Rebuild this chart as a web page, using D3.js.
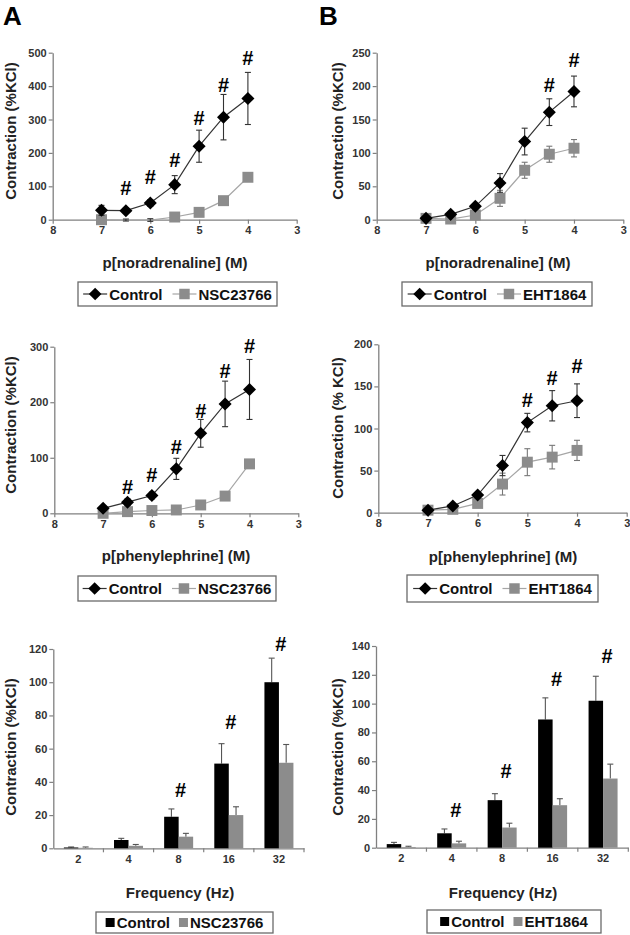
<!DOCTYPE html>
<html><head><meta charset="utf-8">
<script src="https://cdn.jsdelivr.net/npm/d3@7"></script>
<style>
body{margin:0;background:#fff;}
svg{display:block;font-family:"Liberation Sans",Arial,sans-serif;}
</style></head>
<body><svg id="c" width="630" height="935"></svg>
<script>
// ---------- DATA ----------
const doseX = [7, 6.5, 6, 5.5, 5, 4.5, 4];
const doseTicks = [8, 7, 6, 5, 4, 3];
const freqCats = ["2", "4", "8", "16", "32"];

// A, noradrenaline
const noraCtrlA = [28, 27, 50, 105, 220, 307, 363];
const noraCtrlAErr = [15, 8, 10, 27, 48, 68, 78];
const noraNSC = [0, -1, -1, 8, 22, 57, 127];
const noraNSCErr = [1, 3, 4, 1, 2, 2, 3];
const noraNSCMarker = [1, 0, 0, 1, 1, 1, 1];
const noraSigA = [null, 95, 129, 178, 304, 403, 483];
// B, noradrenaline
const noraCtrlB = [2, 8, 20, 55, 117, 161, 192];
const noraCtrlBErr = [1, 3, 4, 14, 20, 20, 23];
const noraEHT = [2, 1, 7, 32, 74, 98, 107];
const noraEHTErr = [1, 1, 3, 12, 12, 12, 13];
const noraSigB = [null, null, null, null, null, 202, 239];
// A, phenylephrine
const pheCtrlA = [9, 20, 32, 80, 144, 197, 223];
const pheCtrlAErr = [5, 6, 6, 19, 25, 41, 54];
const pheNSC = [0, 3, 5, 6, 15, 31, 89];
const pheNSCErr = [1, 1, 1, 1, 2, 2, 3];
const pheSigA = [null, 48, 69, 120, 185, 257, 302];
// B, phenylephrine
const pheCtrlB = [3, 8, 21, 56, 107, 127, 133];
const pheCtrlBErr = [1, 2, 3, 12, 11, 18, 20];
const pheEHT = [3, 4, 11, 34, 60, 66, 74];
const pheEHTErr = [1, 1, 3, 13, 16, 14, 12];
const pheSigB = [null, null, null, null, 134, 160, 174];
// A, frequency
const freqCtrlA = [0.5, 5, 19, 51, 100];
const freqCtrlAErr = [0.3, 1, 4.7, 12, 14.5];
const freqNSC = [0.3, 1.5, 7, 20, 51.5];
const freqNSCErr = [0.5, 0.8, 2, 5, 11];
const freqSigA = [null, null, 35, 76, 123];
// B, frequency
const freqCtrlB = [2.5, 10, 33, 89, 102];
const freqCtrlBErr = [1.2, 3, 4.5, 15, 17];
const freqEHT = [0.5, 3, 14, 29.5, 48];
const freqEHTErr = [0.5, 1.5, 3, 4.5, 10];
const freqSigB = [null, 26, 53, 117, 133];

// ---------- STYLE ----------
const FONT = '"Liberation Sans",Arial,sans-serif';
const AXIS = "#808080";
const TXT = "#333";
const CTRL = "#000";
const CTRL_LINE = "#333";
const DRUG = "#8c8c8c";
const DRUG_LINE = "#a6a6a6";

const svg = d3.select("#c");

function styleAxis(a){
  a.select(".domain").attr("stroke", AXIS).attr("stroke-width", 1.3);
  a.selectAll(".tick line").attr("stroke", AXIS).attr("stroke-width", 1.2);
  a.selectAll(".tick text").attr("fill", TXT).style("font-size", "11px").style("font-weight", "bold").style("font-family", FONT);
}

function yTitle(g, x, y, label){
  g.append("text").attr("transform", `translate(${x},${y}) rotate(-90)`)
    .attr("text-anchor", "middle").attr("dominant-baseline", "central")
    .style("font-size", "15px").style("font-weight", "bold").attr("fill", "#222").text(label);
}
function xTitle(g, x, y, label){
  g.append("text").attr("x", x).attr("y", y).attr("text-anchor", "middle")
    .style("font-size", "15px").style("font-weight", "bold").attr("fill", "#222").text(label);
}

function legendLine(g, box, items){
  const lg = g.append("g");
  lg.append("rect").attr("x", box.x).attr("y", box.y).attr("width", box.w).attr("height", box.h)
    .attr("fill", "#fff").attr("stroke", "#6a6a6a").attr("stroke-width", 1.3);
  const inner = lg.append("g");
  let cx = 0;
  const cy = box.y + box.h / 2;
  items.forEach((it, i) => {
    if (i > 0) cx += 10;
    inner.append("line").attr("x1", cx).attr("x2", cx + 24).attr("y1", cy).attr("y2", cy)
      .attr("stroke", it.line).attr("stroke-width", 1.2);
    inner.append("path").attr("d", d3.symbol(d3.symbolSquare, it.size)())
      .attr("transform", `translate(${cx + 12},${cy}) rotate(${it.rot})`).attr("fill", it.color);
    cx += 26;
    const t = inner.append("text").attr("x", cx).attr("y", cy).attr("dominant-baseline", "central")
      .style("font-size", "15px").style("font-weight", "bold").attr("fill", "#111").text(it.label);
    cx += t.node().getComputedTextLength();
  });
  inner.attr("transform", `translate(${box.x + (box.w - cx) / 2},0)`);
}
function legendBar(g, box, items){
  const lg = g.append("g");
  lg.append("rect").attr("x", box.x).attr("y", box.y).attr("width", box.w).attr("height", box.h)
    .attr("fill", "#fff").attr("stroke", "#6a6a6a").attr("stroke-width", 1.3);
  const inner = lg.append("g");
  let cx = 0;
  const cy = box.y + box.h / 2;
  items.forEach((it, i) => {
    if (i > 0) cx += 9;
    inner.append("rect").attr("x", cx).attr("y", cy - 4.5).attr("width", 9).attr("height", 9).attr("fill", it.color);
    cx += 11;
    const t = inner.append("text").attr("x", cx).attr("y", cy).attr("dominant-baseline", "central")
      .style("font-size", "15px").style("font-weight", "bold").attr("fill", "#111").text(it.label);
    cx += t.node().getComputedTextLength();
  });
  inner.attr("transform", `translate(${box.x + (box.w - cx) / 2},0)`);
}

function sig(g, x, y, sigVals, xs){
  sigVals.forEach((v, i) => {
    if (v == null) return;
    g.append("text").attr("x", xs(i)).attr("y", y(v)).attr("text-anchor", "middle")
      .attr("dominant-baseline", "central").style("font-size", "20px").style("font-weight", "bold")
      .attr("fill", "#000").text("#");
  });
}

function linePanel(cfg){
  const g = svg.append("g");
  const x = d3.scaleLinear().domain([8, 3]).range([cfg.x0, cfg.x1]);
  const y = d3.scaleLinear().domain([0, cfg.yMax]).range([cfg.yBot, cfg.yTop]);
  const ya = g.append("g").attr("transform", `translate(${cfg.x0},0)`)
    .call(d3.axisLeft(y).tickValues(d3.range(0, cfg.yMax + 1, cfg.yStep)).tickSize(4).tickSizeOuter(0).tickPadding(2));
  styleAxis(ya);
  const xa = g.append("g").attr("transform", `translate(0,${cfg.yBot})`)
    .call(d3.axisBottom(x).tickValues(doseTicks).tickFormat(d3.format("d")).tickSize(4).tickSizeOuter(0).tickPadding(3));
  styleAxis(xa);

  const lineGen = d3.line().x((d, i) => x(doseX[i])).y(d => y(d));
  [cfg.drug, cfg.ctrl].forEach(s => {
    g.append("path").datum(s.vals).attr("d", lineGen).attr("fill", "none")
      .attr("stroke", s.line).attr("stroke-width", 1.2);
    s.vals.forEach((v, i) => {
      const e = s.err[i];
      const xx = x(doseX[i]);
      g.append("line").attr("x1", xx).attr("x2", xx).attr("y1", y(v - e)).attr("y2", y(v + e))
        .attr("stroke", s.errColor).attr("stroke-width", 1.1);
      [v - e, v + e].forEach(ev => g.append("line").attr("x1", xx - 3).attr("x2", xx + 3)
        .attr("y1", y(ev)).attr("y2", y(ev)).attr("stroke", s.errColor).attr("stroke-width", 1.1));
    });
    s.vals.forEach((v, i) => {
      if (s.marker && !s.marker[i]) return;
      g.append("path").attr("d", d3.symbol(d3.symbolSquare, s.size)())
        .attr("transform", `translate(${x(doseX[i])},${y(v)}) rotate(${s.rot})`).attr("fill", s.color);
    });
  });
  sig(g, x, y, cfg.sig, i => x(doseX[i]));
  yTitle(g, cfg.yTitleX, cfg.yTitleY, cfg.yLabel);
  xTitle(g, cfg.xTitleX, cfg.xTitleY, cfg.xLabel);
  legendLine(g, cfg.legend, [
    {label: "Control", color: CTRL, line: CTRL_LINE, size: 80, rot: 45},
    {label: cfg.drugName, color: DRUG, line: DRUG_LINE, size: 110, rot: 0}
  ]);
}

function barPanel(cfg){
  const g = svg.append("g");
  const x = d3.scaleBand().domain(freqCats).range([cfg.x0, cfg.x1]);
  const y = d3.scaleLinear().domain([0, cfg.yMax]).range([cfg.yBot, cfg.yTop]);
  const ya = g.append("g").attr("transform", `translate(${cfg.x0},0)`)
    .call(d3.axisLeft(y).tickValues(d3.range(0, cfg.yMax + 1, cfg.yStep)).tickSize(4).tickSizeOuter(0).tickPadding(2));
  styleAxis(ya);
  const xa = g.append("g").attr("transform", `translate(0,${cfg.yBot})`)
    .call(d3.axisBottom(x).tickSize(0).tickSizeOuter(0).tickPadding(7));
  styleAxis(xa);
  freqCats.forEach((c, i) => {
    const bx = cfg.x0 + x.step() * (i + 1);
    g.append("line").attr("x1", bx).attr("x2", bx).attr("y1", cfg.yBot).attr("y2", cfg.yBot + 4)
      .attr("stroke", AXIS).attr("stroke-width", 1.2);
  });
  const bw = 14.5;
  [[cfg.ctrl, CTRL, -1], [cfg.drug, DRUG, 0]].forEach(([s, col, off]) => {
    s.vals.forEach((v, i) => {
      const cx = x(freqCats[i]) + x.bandwidth() / 2;
      const bx = cx + off * bw;
      const e = s.err[i];
      g.append("line").attr("x1", bx + bw / 2).attr("x2", bx + bw / 2).attr("y1", y(v)).attr("y2", y(v + e))
        .attr("stroke", "#555").attr("stroke-width", 1.1);
      g.append("line").attr("x1", bx + bw / 2 - 3).attr("x2", bx + bw / 2 + 3).attr("y1", y(v + e)).attr("y2", y(v + e))
        .attr("stroke", "#555").attr("stroke-width", 1.1);
      g.append("rect").attr("x", bx).attr("width", bw).attr("y", y(v)).attr("height", cfg.yBot - y(v)).attr("fill", col);
    });
  });
  sig(g, x, y, cfg.sig, i => x(freqCats[i]) + x.bandwidth() / 2 + cfg.sigDx);
  yTitle(g, cfg.yTitleX, cfg.yTitleY, "Contraction (%KCl)");
  xTitle(g, cfg.xTitleX, cfg.xTitleY, "Frequency (Hz)");
  legendBar(g, cfg.legend, [{label: "Control", color: CTRL}, {label: cfg.drugName, color: DRUG}]);
}

// panel letters
svg.append("text").attr("x", 3).attr("y", 25).style("font-size", "26px").style("font-weight", "bold").text("A");
svg.append("text").attr("x", 319).attr("y", 25).style("font-size", "26px").style("font-weight", "bold").text("B");

const ctrlStyle = {color: CTRL, line: CTRL_LINE, errColor: "#333", size: 85, rot: 45};
const drugStyle = {color: DRUG, line: DRUG_LINE, errColor: "#777", size: 120, rot: 0};

linePanel({x0: 52.7, x1: 296.7, yTop: 52.7, yBot: 219.7, yMax: 500, yStep: 100,
  ctrl: Object.assign({vals: noraCtrlA, err: noraCtrlAErr}, ctrlStyle),
  drug: Object.assign({vals: noraNSC, err: noraNSCErr, marker: noraNSCMarker}, drugStyle, {errColor: "#333"}),
  sig: noraSigA, yLabel: "Contraction (%KCl)", xLabel: "p[noradrenaline] (M)",
  yTitleX: 10, yTitleY: 131, xTitleX: 175, xTitleY: 268, drugName: "NSC23766",
  legend: {x: 78, y: 282, w: 199, h: 24}});

linePanel({x0: 376.7, x1: 623.3, yTop: 52.7, yBot: 219.7, yMax: 250, yStep: 50,
  ctrl: Object.assign({vals: noraCtrlB, err: noraCtrlBErr}, ctrlStyle),
  drug: Object.assign({vals: noraEHT, err: noraEHTErr}, drugStyle),
  sig: noraSigB, yLabel: "Contraction (%KCl)", xLabel: "p[noradrenaline] (M)",
  yTitleX: 337, yTitleY: 131, xTitleX: 498, xTitleY: 268, drugName: "EHT1864",
  legend: {x: 402, y: 282, w: 190, h: 24}});

linePanel({x0: 54.3, x1: 298.3, yTop: 346.7, yBot: 513.3, yMax: 300, yStep: 100,
  ctrl: Object.assign({vals: pheCtrlA, err: pheCtrlAErr}, ctrlStyle),
  drug: Object.assign({vals: pheNSC, err: pheNSCErr}, drugStyle),
  sig: pheSigA, yLabel: "Contraction (%KCl)", xLabel: "p[phenylephrine] (M)",
  yTitleX: 10, yTitleY: 425, xTitleX: 176, xTitleY: 561, drugName: "NSC23766",
  legend: {x: 78, y: 576, w: 198, h: 25}});

linePanel({x0: 378.3, x1: 626.7, yTop: 344.3, yBot: 512.7, yMax: 200, yStep: 50,
  ctrl: Object.assign({vals: pheCtrlB, err: pheCtrlBErr}, ctrlStyle),
  drug: Object.assign({vals: pheEHT, err: pheEHTErr}, drugStyle),
  sig: pheSigB, yLabel: "Contraction (% KCl)", xLabel: "p[phenylephrine] (M)",
  yTitleX: 337, yTitleY: 428, xTitleX: 503, xTitleY: 562, drugName: "EHT1864",
  legend: {x: 407, y: 575, w: 191, h: 27}});

barPanel({x0: 53.3, x1: 304, yTop: 649, yBot: 848.3, yMax: 120, yStep: 20,
  ctrl: {vals: freqCtrlA, err: freqCtrlAErr}, drug: {vals: freqNSC, err: freqNSCErr},
  sig: freqSigA, sigDx: 2, yTitleX: 10, yTitleY: 747, xTitleX: 180, xTitleY: 898,
  drugName: "NSC23766", legend: {x: 96, y: 912, w: 177, h: 21}});

barPanel({x0: 376, x1: 628.3, yTop: 646, yBot: 847.7, yMax: 140, yStep: 20,
  ctrl: {vals: freqCtrlB, err: freqCtrlBErr}, drug: {vals: freqEHT, err: freqEHTErr},
  sig: freqSigB, sigDx: 4, yTitleX: 337, yTitleY: 747, xTitleX: 503, xTitleY: 898,
  drugName: "EHT1864", legend: {x: 427, y: 910, w: 174, h: 23}});
</script>
</body></html>
